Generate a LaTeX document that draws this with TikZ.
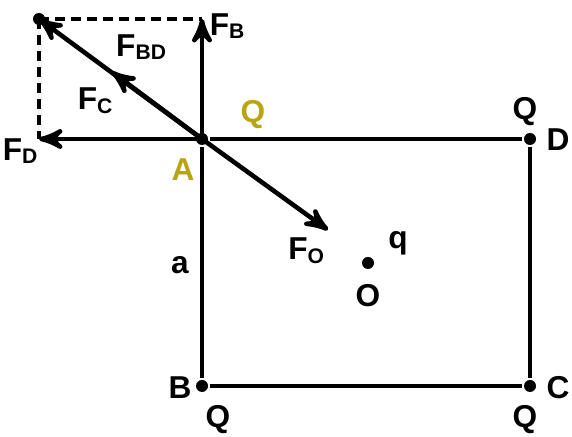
\documentclass[tikz,border=0pt]{standalone}
\usepackage{fontspec}
\setmainfont{Liberation Sans}
\usetikzlibrary{arrows}
\definecolor{label_yellow}{RGB}{185,165,20}

\begin{document}
\begin{tikzpicture}[->,line width=1.3pt,>=stealth']
    \tikzstyle{lbl}=[inner sep=1pt,font=\fontsize{9}{10}\selectfont\bfseries,text=black]
    \tikzstyle{ylbl}=[style=lbl,text=label_yellow]
    \tikzstyle{dot}=[circle,fill=black,inner sep=0pt,minimum size=0.12cm]
    \tikzstyle{helper}=[-,dash pattern=on 0.1cm off 0.06cm]
    \useasboundingbox (0,0) rectangle (5.72,4.37);

    \node[dot] (A) at (2.02,2.98) {};
    \node[dot] (D) at (5.30,2.98) {};
    \node[dot] (B) at (2.02,0.51) {};
    \node[dot] (C) at (5.30,0.51) {};
    \node[dot] (O) at (3.68,1.74) {};
    \node[dot] (P) at (0.39,4.18) {};
    \coordinate (fb) at (2.02,4.18);
    \coordinate (fd) at (0.39,2.98);
    \coordinate (fc) at (1.12,3.65);
    \coordinate (fo) at (3.28,2.07);

    % square
    \path[-]
     (A) edge (D)
     (D) edge (C)
     (C) edge (B)
     (B) edge (A)
     ;
    % forces on A
    \path
     (A.center) edge (fb)
     (A.center) edge (fd)
     (A.center) edge (P.center)
     (A.center) edge (fc)
     (A.center) edge (fo)
     (P.center) edge[helper] (fb)
     (P.center) edge[helper] (fd)
     ;

    \node[lbl]  (lfb)  at (2.28,4.11) {F\textsubscript{B}};
    \node[lbl]  (lfbd) at (1.42,3.90) {F\textsubscript{BD}};
    \node[lbl]  (lfc)  at (0.96,3.36) {F\textsubscript{C}};
    \node[lbl]  (lfd)  at (0.21,2.86) {F\textsubscript{D}};
    \node[ylbl] (lq)   at (2.53,3.22) {Q};
    \node[ylbl] (la)   at (1.83,2.67) {A};
    \node[lbl]  (lqd)  at (5.25,3.25) {Q};
    \node[lbl]  (ld)   at (5.58,2.97) {D};
    \node[lbl]  (lside) at (1.80,1.72) {a};
    \node[lbl]  (lfo)  at (3.07,1.86) {F\textsubscript{O}};
    \node[lbl]  (lq2)  at (3.98,1.94) {q};
    \node[lbl]  (lo)   at (3.68,1.41) {O};
    \node[lbl]  (lb)   at (1.80,0.49) {B};
    \node[lbl]  (lqb)  at (2.18,0.17) {Q};
    \node[lbl]  (lc)   at (5.58,0.49) {C};
    \node[lbl]  (lqc)  at (5.25,0.17) {Q};
\end{tikzpicture}
\end{document}
